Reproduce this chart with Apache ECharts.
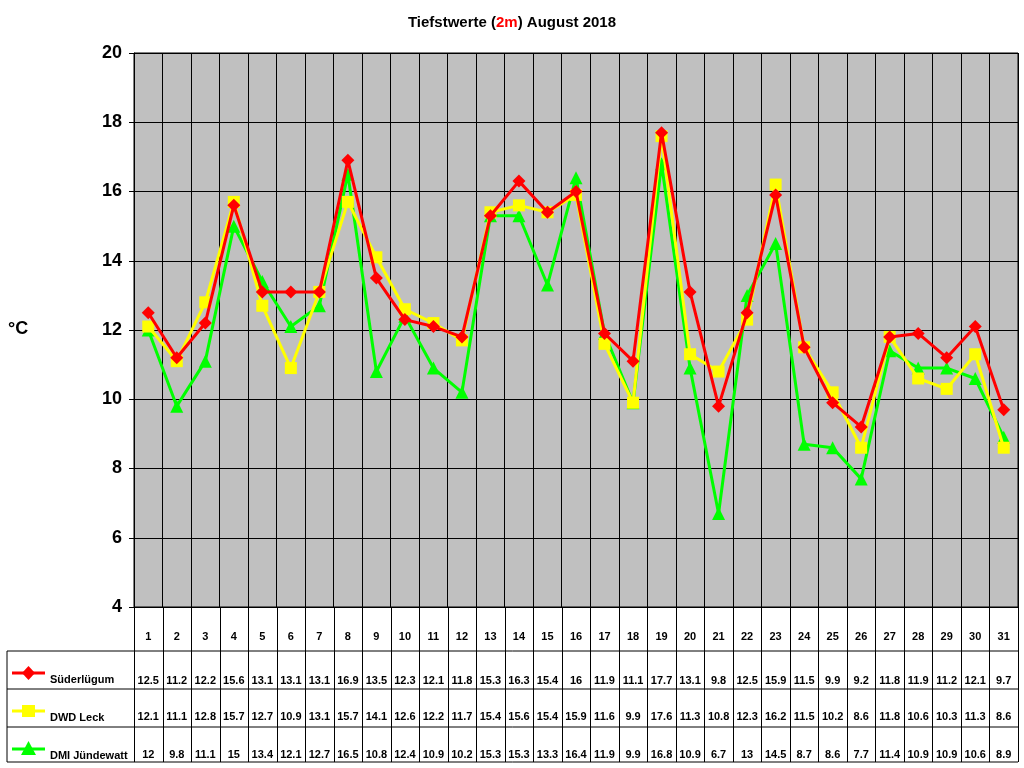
<!DOCTYPE html>
<html lang="en">
<head>
<meta charset="UTF-8">
<title>Tiefstwerte August 2018</title>
<style>
    html, body { margin: 0; background: #fff; }
    #main { width: 1024px; height: 768px; }
</style>
<script src="https://cdn.jsdelivr.net/npm/echarts@6/dist/echarts.min.js"></script>
</head>
<body>
<div id="main"></div>
<script type="text/javascript">
    var days = [];
    for (var d = 1; d <= 31; d++) days.push(String(d));
    var names = ['Süderlügum', 'DWD Leck', 'DMI Jündewatt'];
    var colors = ['#ff0000', '#ffff00', '#00ff00'];
    var symbols = ['diamond', 'rect', 'triangle'];
    var suederluegum = [12.5, 11.2, 12.2, 15.6, 13.1, 13.1, 13.1, 16.9, 13.5, 12.3, 12.1, 11.8, 15.3, 16.3, 15.4, 16, 11.9, 11.1, 17.7, 13.1, 9.8, 12.5, 15.9, 11.5, 9.9, 9.2, 11.8, 11.9, 11.2, 12.1, 9.7];
    var dwdLeck = [12.1, 11.1, 12.8, 15.7, 12.7, 10.9, 13.1, 15.7, 14.1, 12.6, 12.2, 11.7, 15.4, 15.6, 15.4, 15.9, 11.6, 9.9, 17.6, 11.3, 10.8, 12.3, 16.2, 11.5, 10.2, 8.6, 11.8, 10.6, 10.3, 11.3, 8.6];
    var dmiJuendewatt = [12, 9.8, 11.1, 15, 13.4, 12.1, 12.7, 16.5, 10.8, 12.4, 10.9, 10.2, 15.3, 15.3, 13.3, 16.4, 11.9, 9.9, 16.8, 10.9, 6.7, 13, 14.5, 8.7, 8.6, 7.7, 11.4, 10.9, 10.9, 10.6, 8.9];
    var allData = [suederluegum, dwdLeck, dmiJuendewatt];

    // Layout
    var L = 134, R = 1018, T = 53, B = 607;
    var rowLines = [651, 689, 727, 762];
    var colW = (R - L) / days.length;

    var xAxes = [{
        type: 'category', data: days, gridIndex: 0, position: 'bottom',
        axisLine: { show: false }, axisTick: { show: false },
        splitLine: { show: true, lineStyle: { color: '#000', width: 1 } },
        axisLabel: { margin: 24, fontWeight: 'bold', fontSize: 11, color: '#000', fontFamily: 'Liberation Sans' }
    }];
    var offsets = [68, 104, 142];
    allData.forEach(function (arr, i) {
        xAxes.push({
            type: 'category', data: arr.map(String), gridIndex: 0, position: 'bottom', offset: offsets[i],
            axisLine: { show: false }, axisTick: { show: false }, splitLine: { show: false },
            axisLabel: { margin: 0, fontWeight: 'bold', fontSize: 11, color: '#000', fontFamily: 'Liberation Sans', interval: 0 }
        });
    });

    var graphics = [];
    // table horizontal lines
    rowLines.forEach(function (y, i) {
        graphics.push({ type: 'line', shape: { x1: i === rowLines.length - 1 || i >= 0 ? 7 : L, y1: y, x2: R, y2: y }, style: { stroke: '#000', lineWidth: 1 } });
    });
    graphics.push({ type: 'line', shape: { x1: 7, y1: rowLines[0], x2: 7, y2: rowLines[3] }, style: { stroke: '#000', lineWidth: 1 } });
    for (var c = 0; c <= days.length; c++) {
        var x = Math.round(L + c * colW) + 0.5;
        graphics.push({ type: 'line', shape: { x1: x, y1: B, x2: x, y2: rowLines[3] }, style: { stroke: '#000', lineWidth: 1 } });
    }
    // legend keys
    names.forEach(function (n, i) {
        var y = rowLines[i] + 22;
        graphics.push({ type: 'line', shape: { x1: 12, y1: y, x2: 45, y2: y }, style: { stroke: colors[i], lineWidth: 3 } });
        var sym = i === 0 ? { type: 'polygon', shape: { points: [[28.5, y - 7], [35, y], [28.5, y + 7], [22, y]] } }
            : i === 1 ? { type: 'rect', shape: { x: 22, y: y - 6, width: 13, height: 12 } }
            : { type: 'polygon', shape: { points: [[28.5, y - 8], [36, y + 6], [21, y + 6]] } };
        sym.style = { fill: colors[i] };
        graphics.push(sym);
        graphics.push({ type: 'text', left: 50, top: y + 1, style: { text: n, font: 'bold 11px Liberation Sans', fill: '#000' } });
    });
    graphics.push({ type: 'text', left: 8, top: 320, style: { text: '°C', font: 'bold 18px Liberation Sans', fill: '#000' } });

    var myChart = echarts.init(document.getElementById('main'));
    var option = {
        animation: false,
        backgroundColor: '#fff',
        title: {
            text: 'Tiefstwerte ({r|2m}) August 2018',
            left: 'center', top: 10,
            textStyle: {
                fontSize: 15, fontWeight: 'bold', color: '#000', fontFamily: 'Liberation Sans',
                rich: { r: { color: '#ff0000', fontSize: 15, fontWeight: 'bold', fontFamily: 'Liberation Sans', textDecoration: 'underline' } }
            }
        },
        grid: { left: L, right: 1024 - R, top: T, bottom: 768 - B, backgroundColor: '#c0c0c0', show: true, borderColor: '#000', borderWidth: 1 },
        xAxis: xAxes,
        yAxis: {
            type: 'value', min: 4, max: 20, interval: 2,
            axisLine: { show: true, lineStyle: { color: '#000' } },
            axisTick: { show: true, inside: false, length: 5, lineStyle: { color: '#000' } },
            splitLine: { show: true, lineStyle: { color: '#000', width: 1 } },
            axisLabel: { fontSize: 18, fontWeight: 'bold', color: '#000', fontFamily: 'Liberation Sans', margin: 12 }
        },
        graphic: graphics,
        series: allData.map(function (arr, i) {
            return {
                name: names[i], type: 'line', data: arr, xAxisIndex: 0,
                symbol: symbols[i], symbolSize: i === 1 ? 12 : 13,
                lineStyle: { color: colors[i], width: 3 },
                itemStyle: { color: colors[i] },
                z: 5 - i
            };
        })
    };
    myChart.setOption(option);
</script>
</body>
</html>
